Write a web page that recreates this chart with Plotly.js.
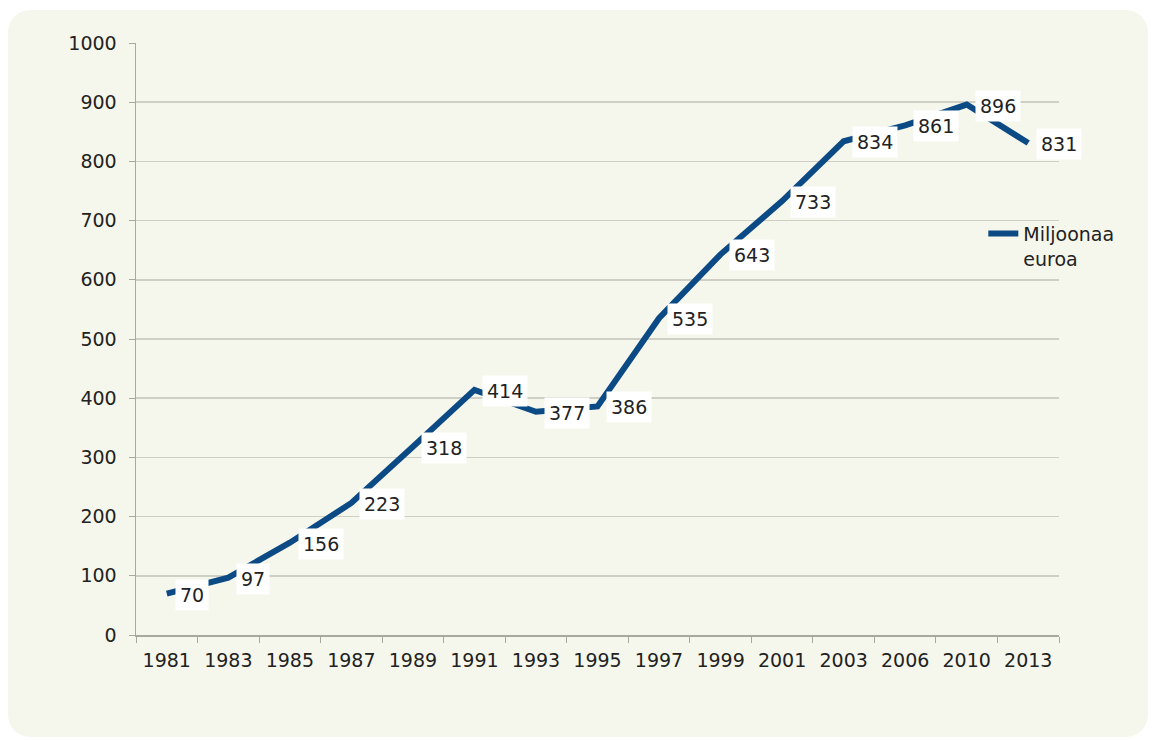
<!DOCTYPE html>
<html>
<head>
<meta charset="utf-8">
<script src="https://cdn.plot.ly/plotly-3.0.1.min.js"></script>
<style>
  html, body { margin: 0; padding: 0; background: #ffffff; }
  #panel { position: absolute; left: 8px; top: 10px; width: 1140px; height: 727px;
           background: #f6f7ec; border-radius: 22px; }
  #chart { position: absolute; left: 0; top: 0; width: 1152px; height: 740px; }
</style>
</head>
<body>
<div id="panel"></div>
<div id="chart"></div>
<script>
// Years on the category axis
const years = ['1981','1983','1985','1987','1989','1991','1993','1995','1997','1999','2001','2003','2006','2010','2013'];
// Million euros per year
const values = [70, 97, 156, 223, 318, 414, 377, 386, 535, 643, 733, 834, 861, 896, 831];
const seriesName = 'Miljoonaa<br>euroa';
const yTicks = [0, 100, 200, 300, 400, 500, 600, 700, 800, 900, 1000];

const lineColor = '#0b4a84';
const fontFamily = 'Verdana, "DejaVu Sans", sans-serif';
const textColor = '#222222';

const trace = {
  x: years,
  y: values,
  type: 'scatter',
  mode: 'lines',
  name: seriesName,
  line: { color: lineColor, width: 6 },
  hoverinfo: 'skip'
};

// Value labels sit to the right of each point on a white box.
// Category positions are given by index so numeric-looking years are not read as numbers.
const annotations = years.map((yr, i) => ({
  x: i,
  y: values[i],
  xref: 'x',
  yref: 'y',
  text: String(values[i]),
  showarrow: false,
  xanchor: 'left',
  yanchor: 'middle',
  xshift: 8,
  yshift: -1,
  bgcolor: '#ffffff',
  borderpad: 4,
  font: { family: fontFamily, size: 19, color: textColor }
}));

const layout = {
  width: 1152,
  height: 740,
  margin: { l: 136, r: 93, t: 43, b: 105 },
  paper_bgcolor: 'rgba(0,0,0,0)',
  plot_bgcolor: 'rgba(0,0,0,0)',
  font: { family: fontFamily, size: 19, color: textColor },
  showlegend: true,
  legend: {
    x: 0.918, xanchor: 'left', y: 0.71, yanchor: 'top',
    valign: 'top',
    bgcolor: 'rgba(0,0,0,0)',
    font: { family: fontFamily, size: 19, color: textColor },
    itemwidth: 30
  },
  xaxis: {
    type: 'category',
    tickmode: 'array',
    tickvals: years,
    ticktext: years,
    showgrid: false,
    showline: true,
    linecolor: '#a8a8a0',
    linewidth: 1.5,
    ticks: 'outside',
    ticklen: 6,
    tickcolor: '#a8a8a0',
    tickson: 'boundaries',
    ticklabelstandoff: 8,
    range: [-0.5, years.length - 0.5],
    tickfont: { family: fontFamily, size: 19, color: textColor },
    fixedrange: true
  },
  yaxis: {
    range: [0, 1000],
    tickmode: 'array',
    tickvals: yTicks,
    showgrid: true,
    gridcolor: '#cfcfc6',
    gridwidth: 1.5,
    showline: true,
    linecolor: '#a8a8a0',
    linewidth: 1.5,
    ticks: 'outside',
    ticklen: 6,
    tickcolor: '#a8a8a0',
    ticklabelstandoff: 8,
    zeroline: false,
    tickfont: { family: fontFamily, size: 19, color: textColor },
    fixedrange: true
  },
  annotations: annotations
};

Plotly.newPlot('chart', [trace], layout, { displayModeBar: false, staticPlot: true });
</script>
</body>
</html>
